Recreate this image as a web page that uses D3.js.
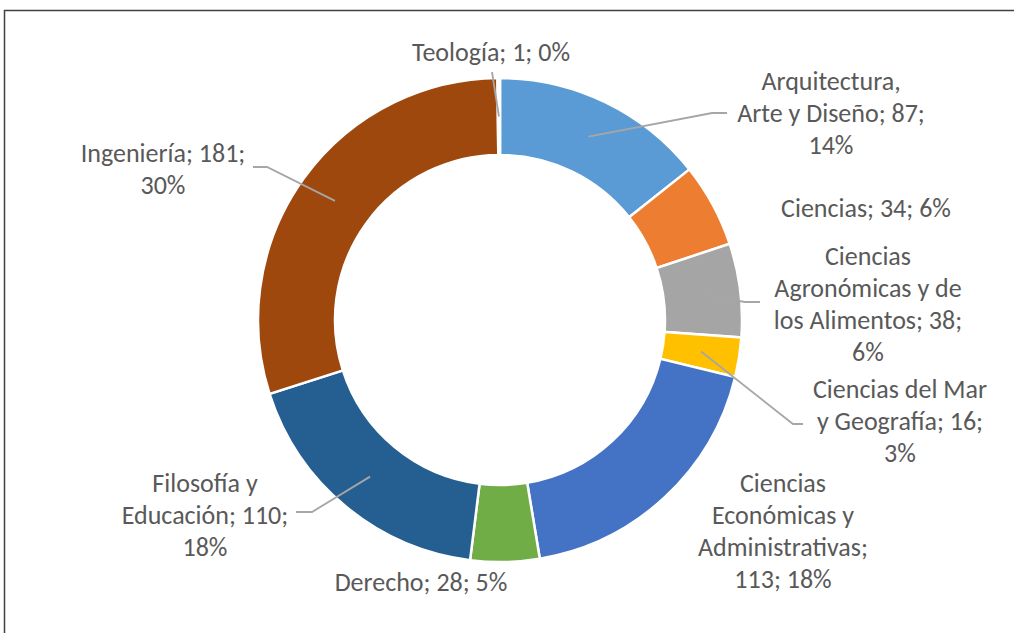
<!DOCTYPE html>
<html>
<head>
<meta charset="utf-8">
<script src="https://cdn.jsdelivr.net/npm/d3@7"></script>
<style>
  body { margin: 0; background: #fff; }
  text { font-family: Carlito, Calibri, Lato, sans-serif; fill: #595959; }
</style>
</head>
<body>
<svg id="chart" width="1014" height="633"></svg>
<script>
// data (Excel order, clockwise from 12 o'clock)
var categories = ["Arquitectura, Arte y Diseño", "Ciencias", "Ciencias Agronómicas y de los Alimentos",
    "Ciencias del Mar y Geografía", "Ciencias Económicas y Administrativas", "Derecho",
    "Filosofía y Educación", "Ingeniería", "Teología"];
var values = [87, 34, 38, 16, 113, 28, 110, 181, 1];
var colors = ["#5B9BD5", "#ED7D31", "#A5A5A5", "#FFC000", "#4472C4", "#70AD47", "#255E91", "#9E480E", "#636363"];
// how many words go on each line of a label
var wrapWords = [[1, 4, 1], [3], [1, 3, 3, 1], [3, 3, 1], [1, 2, 1, 2], [3], [2, 2, 1], [2, 1], [3]];

// hand placed labels, like the excel data labels were dragged
var labelPos = [[831, 90], [866, 217], [868, 265], [900, 398], [783, 492], [421, 591], [205, 492], [163, 162], [491, 61]];
var leaderPts = [[[712, 113], [727, 113]], null, [[745, 302], [760, 302]], [[793, 424], [803, 424]],
    null, null, [[312, 512], [296, 512]], [[267, 167], [253, 167]], [[492, 72]]];

var svg = d3.select("#chart");
var cx = 500, cy = 320, outerR = 242, innerR = 165;
var lineH = 32;

// excel style percentages: largest remainder so they add to 100
function percents(vals){
    var total = d3.sum(vals);
    var raw = vals.map(function(v){ return v / total * 100 });
    var out = raw.map(Math.floor);
    var left = 100 - d3.sum(out);
    var order = d3.range(vals.length).sort(function(a, b){ return (raw[b] - out[b]) - (raw[a] - out[a]) });
    for(var i = 0; i < left; i++) out[order[i]] += 1;
    return out;
}
var pcts = percents(values);

var data = categories.map(function(c, i){
    return {cat: c, value: values[i], pct: pcts[i], color: colors[i], idx: i};
});

// frame of the chart area (cropped on right / bottom)
svg.append("path")
    .attr("d", "M4.5,633 L4.5,10.5 L1014,10.5")
    .attr("fill", "none")
    .attr("stroke", "#404040")
    .attr("stroke-width", 1.5);

var pie = d3.pie().sort(null).value(function(d){ return d.value });
var arc = d3.arc().innerRadius(innerR).outerRadius(outerR);

var g = svg.append("g").attr("transform", "translate(" + cx + "," + cy + ")");
var arcs = pie(data);

g.selectAll("path.slice")
    .data(arcs)
    .enter().append("path")
    .attr("class", "slice")
    .attr("d", arc)
    .attr("fill", function(d){ return d.data.color })
    .attr("stroke", "#fff")
    .attr("stroke-width", 2.5)
    .attr("stroke-linejoin", "miter");

// leader lines from the middle of the ring out to the labels
arcs.forEach(function(a, i){
    if(!leaderPts[i]) return;
    var c = arc.centroid(a);
    var pts = [[cx + c[0], cy + c[1]]].concat(leaderPts[i]);
    svg.append("path")
        .attr("d", d3.line()(pts))
        .attr("fill", "none")
        .attr("stroke", "#A6A6A6")
        .attr("stroke-width", 1.8);
});

// labels
data.forEach(function(d, i){
    var words = (d.cat + "; " + d.value + "; " + d.pct + "%").split(" ");
    var lines = [], k = 0;
    wrapWords[i].forEach(function(n){
        lines.push(words.slice(k, k + n).join(" "));
        k += n;
    });
    var t = svg.append("text")
        .attr("x", labelPos[i][0])
        .attr("y", labelPos[i][1])
        .attr("text-anchor", "middle")
        .style("font-size", "26px");
    lines.forEach(function(l, j){
        t.append("tspan")
            .attr("x", labelPos[i][0])
            .attr("dy", j == 0 ? 0 : lineH)
            .text(l);
    });
});
</script>
</body>
</html>
